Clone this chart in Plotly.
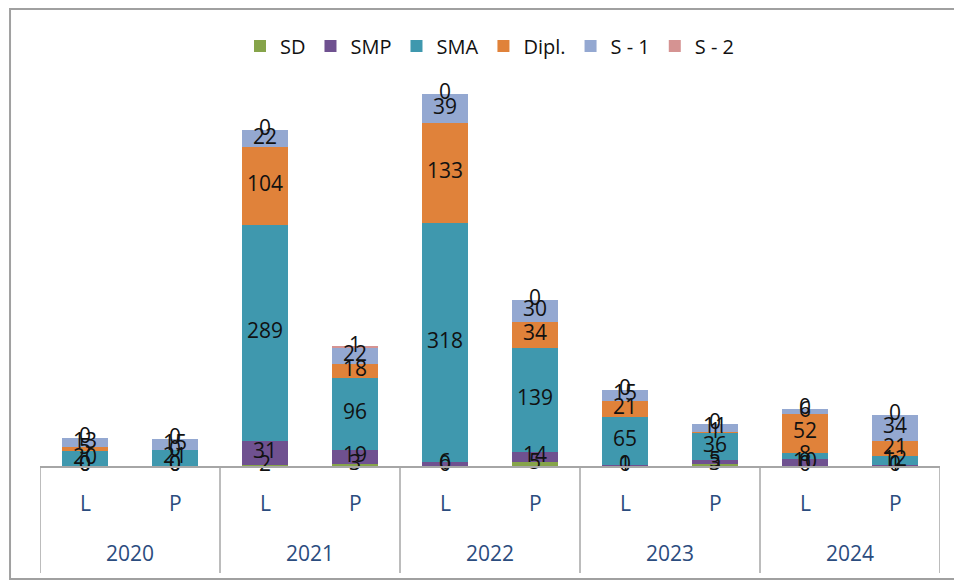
import plotly.graph_objects as go

categories = ["2020 L", "2020 P", "2021 L", "2021 P", "2022 L", "2022 P",
              "2023 L", "2023 P", "2024 L", "2024 P"]
sub_labels = ["L", "P", "L", "P", "L", "P", "L", "P", "L", "P"]
years = ["2020", "2021", "2022", "2023", "2024"]

SD = [0, 0, 2, 3, 0, 5, 0, 3, 0, 0]
SMP = [0, 0, 31, 19, 6, 14, 1, 5, 10, 1]
SMA = [20, 21, 289, 96, 318, 139, 65, 36, 8, 12]
Dipl = [5, 0, 104, 18, 133, 34, 21, 1, 52, 21]
S1 = [13, 15, 22, 22, 39, 30, 15, 11, 6, 34]
S2 = [0, 0, 0, 1, 0, 0, 0, 0, 0, 0]

series = [("SD", SD, "#86A44A"), ("SMP", SMP, "#6F5190"), ("SMA", SMA, "#3F98AE"),
          ("Dipl.", Dipl, "#E0823A"), ("S - 1", S1, "#94A8D1"), ("S - 2", S2, "#D59392")]

FONT = "Open Sans, sans-serif"
LABEL_SIZE = 21

fig = go.Figure()
base = [0] * len(categories)
for name, vals, col in series:
    fig.add_trace(go.Bar(
        x=categories, y=vals, name=name, marker=dict(color=col, line=dict(width=0)),
        hoverinfo="skip",
    ))
    mids = [b + v / 2 for b, v in zip(base, vals)]
    fig.add_trace(go.Scatter(
        x=categories, y=mids, mode="text", text=[str(v) for v in vals],
        textposition="middle center", showlegend=False, hoverinfo="skip", cliponaxis=False,
        textfont=dict(family=FONT, size=LABEL_SIZE, color="#111111"),
    ))
    base = [b + v for b, v in zip(base, vals)]

# Axis labels (two-level category axis)
AX_COL = "#2B4C7E"
for i, lab in enumerate(sub_labels):
    fig.add_annotation(x=i, y=-0.099, xref="x", yref="paper", text=lab, showarrow=False,
                       xanchor="center", yanchor="middle",
                       font=dict(family=FONT, size=LABEL_SIZE, color=AX_COL))
for j, yr in enumerate(years):
    fig.add_annotation(x=2 * j + 0.5, y=-0.232, xref="x", yref="paper", text=yr, showarrow=False,
                       xanchor="center", yanchor="middle",
                       font=dict(family=FONT, size=LABEL_SIZE, color=AX_COL))

shapes = []
for k in range(6):
    xv = -0.5 + 2 * k
    shapes.append(dict(type="line", xref="x", yref="paper", x0=xv, x1=xv, y0=0, y1=-0.285,
                       line=dict(color="#A6A6A6", width=1.5)))
# chart frame
shapes.append(dict(type="rect", xref="paper", yref="paper", x0=-0.0333, x1=1.0178,
                   y0=-0.3013, y1=1.2187, line=dict(color="#A0A0A0", width=2), layer="below"))

fig.update_layout(
    width=954, height=577,
    margin=dict(l=32, r=22, t=83, b=119),
    paper_bgcolor="white", plot_bgcolor="white",
    barmode="stack", bargap=0.49,
    showlegend=True,
    legend=dict(orientation="h", x=0.5, xanchor="center", y=1.12, yanchor="middle",
                traceorder="normal", font=dict(family=FONT, size=20, color="#111111"),
                itemwidth=30, tracegroupgap=0),
    xaxis=dict(type="category", range=[-0.5, 9.5], showticklabels=False, ticks="",
               showline=True, linecolor="#A6A6A6", linewidth=1.5, showgrid=False, zeroline=False),
    yaxis=dict(range=[0, 500], visible=False, showgrid=False, zeroline=False),
    shapes=shapes,
    font=dict(family=FONT),
)

fig.write_html("out.html")
